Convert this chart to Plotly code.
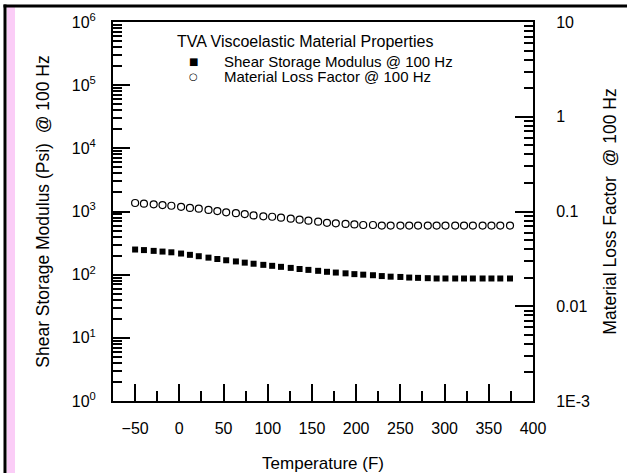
import plotly.graph_objects as go

# ---------------- data ----------------
temperature_F = [-50, -40, -29, -19, -9, 2, 12, 22, 33, 43, 53, 64, 74, 84, 95, 105,
                 115, 126, 136, 146, 157, 167, 177, 188, 198, 208, 219, 229, 239, 250,
                 260, 270, 281, 291, 301, 312, 322, 332, 343, 353, 363, 374]
shear_modulus_psi = [250, 245, 238, 232, 226, 216, 206, 196, 186, 177, 169, 162, 155, 149,
                     143, 138, 133, 128, 123, 119, 115, 111, 108, 105, 102, 100, 98, 95,
                     93, 92, 90, 89, 88, 87, 87, 87, 87, 87, 87, 87, 87, 87]
loss_factor = [0.123, 0.121, 0.119, 0.117, 0.115, 0.112, 0.109, 0.107, 0.104, 0.101,
               0.098, 0.096, 0.094, 0.091, 0.089, 0.088, 0.086, 0.084, 0.082, 0.080,
               0.078, 0.076, 0.075, 0.074, 0.073, 0.072, 0.072, 0.071, 0.071, 0.071,
               0.071, 0.071, 0.071, 0.071, 0.071, 0.071, 0.071, 0.071, 0.071, 0.071,
               0.071, 0.071]

x_ticks = [-50, 0, 50, 100, 150, 200, 250, 300, 350, 400]
x_minor = [-25, 25, 75, 125, 175, 225, 275, 325, 375]
left_tickvals = [1, 10, 100, 1000, 10000, 100000, 1000000]
left_ticktext = ["10<sup>0</sup>", "10<sup>1</sup>", "10<sup>2</sup>", "10<sup>3</sup>",
                 "10<sup>4</sup>", "10<sup>5</sup>", "10<sup>6</sup>"]
right_tickvals = [0.001, 0.01, 0.1, 1, 10]
right_ticktext = ["1E-3", "0.01", "0.1", "1", "10"]

legend_title = "TVA Viscoelastic Material Properties"
name_g = "Shear Storage Modulus @ 100 Hz"
name_eta = "Material Loss Factor @ 100 Hz"

# ---------------- layout geometry (pixels) ----------------
W, H = 627, 473
L, R, T, B = 113, 94, 22, 72
PW, PH = W - L - R, H - T - B


def px(p):
    return (p - L) / PW


def py(p):
    return 1 - (p - T) / PH


FONT = "Liberation Sans, Arial, Helvetica, sans-serif"


def minor_log(lo, hi):
    vals = []
    for n in range(lo, hi):
        for k in range(2, 10):
            vals.append(k * 10 ** n)
    return vals


fig = go.Figure()
fig.add_trace(go.Scatter(
    x=temperature_F, y=shear_modulus_psi, name=name_g, mode="markers",
    marker=dict(symbol="square", size=6, color="black"), yaxis="y"))
fig.add_trace(go.Scatter(
    x=temperature_F, y=loss_factor, name=name_eta, mode="markers",
    marker=dict(symbol="circle-open", size=7, color="black", line=dict(width=1.2)),
    yaxis="y2"))

fig.update_layout(
    width=W, height=H,
    margin=dict(l=L, r=R, t=T, b=B, autoexpand=False),
    paper_bgcolor="white", plot_bgcolor="white",
    showlegend=False,
    font=dict(family=FONT, color="black", size=16),
    xaxis=dict(
        range=[-75, 400], tickvals=x_ticks, ticks="inside", ticklen=17, tickwidth=2,
        tickcolor="black", showline=True, linewidth=2, linecolor="black", mirror=True,
        showgrid=False, zeroline=False, ticklabelstandoff=12,
        tickfont=dict(size=16),
        minor=dict(tickvals=x_minor, ticks="inside", ticklen=10, tickwidth=2,
                   tickcolor="black", showgrid=False),
        title=dict(text="Temperature (F)", font=dict(size=17), standoff=21),
    ),
    yaxis=dict(
        type="log", range=[0, 6], tickvals=left_tickvals, ticktext=left_ticktext,
        ticks="inside", ticklen=17, tickwidth=2, tickcolor="black",
        showline=True, linewidth=2, linecolor="black", showgrid=False, zeroline=False,
        ticklabelstandoff=12, tickfont=dict(size=16),
        minor=dict(tickvals=minor_log(0, 6), ticks="inside", ticklen=9, tickwidth=1.5,
                   tickcolor="black", showgrid=False),
        title=dict(text="Shear Storage Modulus (Psi)  @ 100 Hz", font=dict(size=17.5),
                   standoff=18),
    ),
    yaxis2=dict(
        type="log", range=[-3, 1], tickvals=right_tickvals, ticktext=right_ticktext,
        overlaying="y", side="right",
        ticks="inside", ticklen=18, tickwidth=2, tickcolor="black",
        showline=True, linewidth=2, linecolor="black", showgrid=False, zeroline=False,
        ticklabelstandoff=18, tickfont=dict(size=16),
        minor=dict(tickvals=minor_log(-3, 1), ticks="inside", ticklen=9, tickwidth=1.5,
                   tickcolor="black", showgrid=False),
        title=dict(text="Material Loss Factor  @ 100 Hz", font=dict(size=17.5),
                   standoff=15),
    ),
)

# legend drawn as text block inside the plot
fig.add_annotation(xref="paper", yref="paper", x=px(175), y=py(42), xanchor="left",
                   yanchor="middle", text=legend_title, showarrow=False,
                   font=dict(size=16))
fig.add_annotation(xref="paper", yref="paper", x=px(193), y=py(61), xanchor="center",
                   yanchor="middle", text="■", showarrow=False,
                   font=dict(size=10, family="DejaVu Sans"))
fig.add_annotation(xref="paper", yref="paper", x=px(222), y=py(61), xanchor="left",
                   yanchor="middle", text=name_g, showarrow=False, font=dict(size=15))
fig.add_annotation(xref="paper", yref="paper", x=px(193), y=py(77), xanchor="center",
                   yanchor="middle", text="○", showarrow=False,
                   font=dict(size=10, family="DejaVu Sans"))
fig.add_annotation(xref="paper", yref="paper", x=px(222), y=py(77), xanchor="left",
                   yanchor="middle", text=name_eta, showarrow=False, font=dict(size=15))

# page frame: pink strip on the left, black lines at top and left
fig.add_shape(type="rect", xref="paper", yref="paper", x0=px(7), x1=px(15),
              y0=py(H), y1=py(7), fillcolor="#FBCDF7", line=dict(width=0), layer="below")
fig.add_shape(type="rect", xref="paper", yref="paper", x0=px(3.5), x1=px(6.5),
              y0=py(H), y1=py(4.5), fillcolor="black", line=dict(width=0))
fig.add_shape(type="rect", xref="paper", yref="paper", x0=px(3.5), x1=px(W),
              y0=py(7.5), y1=py(4.5), fillcolor="black", line=dict(width=0))

fig.write_html("out.html")
